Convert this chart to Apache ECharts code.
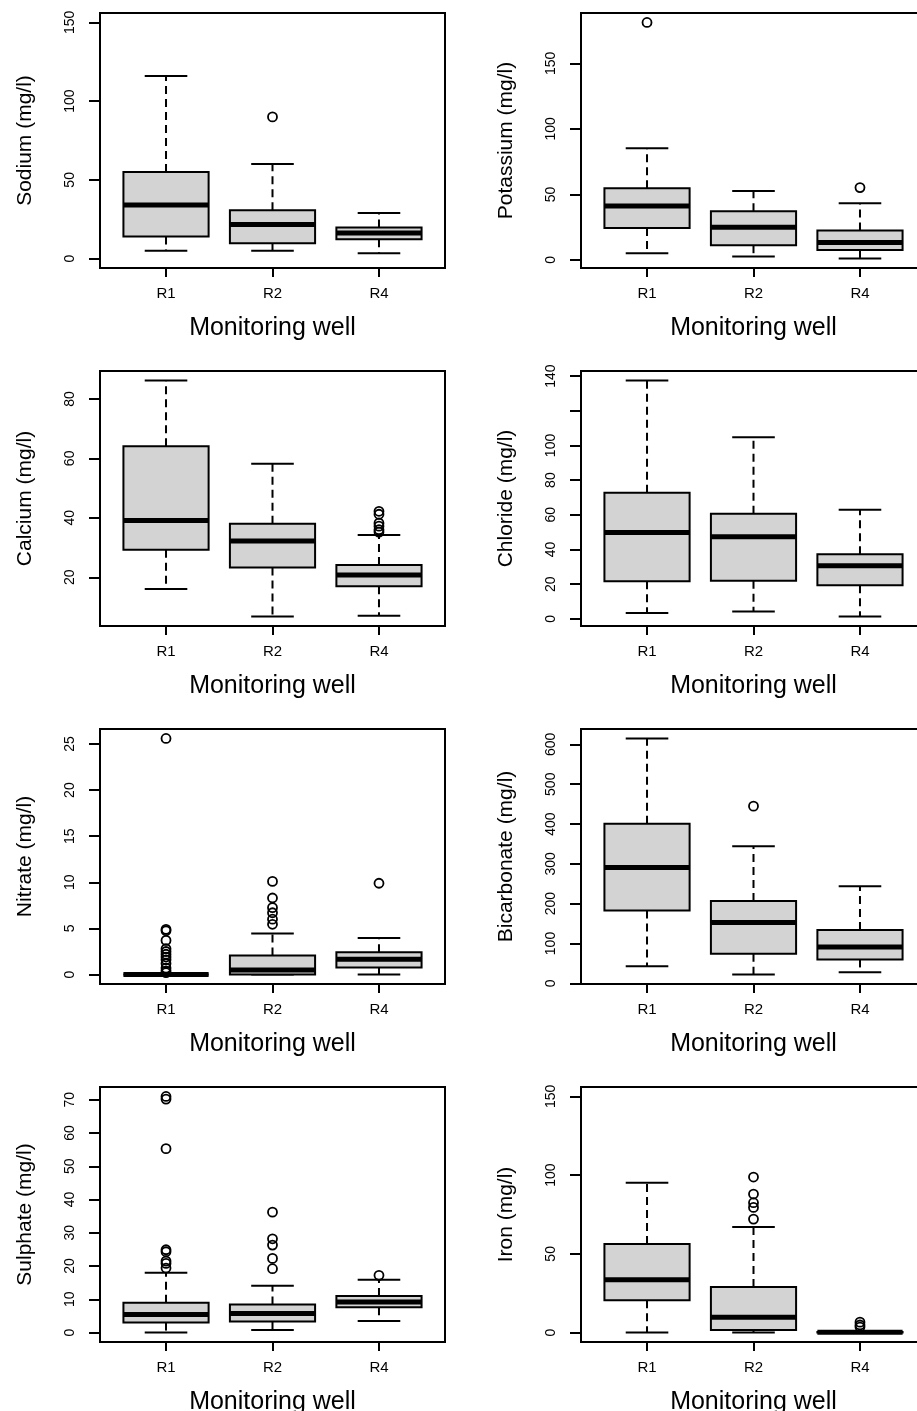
<!DOCTYPE html>
<html>
<head>
<meta charset="utf-8">
<script src="https://cdn.jsdelivr.net/npm/echarts@6/dist/echarts.min.js"></script>
<style>
  html, body { margin: 0; padding: 0; background: #fff; overflow: hidden; }
  #chart { width: 940px; height: 1411px; }
</style>
</head>
<body>
<div id="chart"></div>
<script>
// Monitoring wells on the x axis
const wells = ['R1', 'R2', 'R4'];

// Five-number summaries per well: [lower whisker, Q1, median, Q3, upper whisker]
const sodiumStats = [[5, 14, 34, 55, 116], [5, 9.7, 21.6, 30.7, 60], [3.4, 12.3, 16.3, 19.7, 29]];
const sodiumOutliers = [[], [90], []];
const sodiumTicks = [0, 50, 100, 150];

const potassiumStats = [[5.1, 24.4, 41.2, 54.7, 85.2], [2.5, 11.2, 24.9, 37.1, 52.6], [1.0, 7.6, 13.2, 22.4, 43.2]];
const potassiumOutliers = [[181.3], [], [55.2]];
const potassiumTicks = [0, 50, 100, 150];

const calciumStats = [[16.1, 29.3, 39.1, 64.1, 86.2], [6.8, 23.3, 32.2, 38.0, 58.2], [7.1, 17.0, 20.8, 24.1, 34.2]];
const calciumOutliers = [[], [], [42.2, 41.2, 38.2, 37.2, 36.0, 35.2]];
const calciumTicks = [20, 40, 60, 80];

const chlorideStats = [[3.3, 21.7, 49.8, 72.7, 137.5], [4.2, 21.9, 47.3, 60.6, 104.8], [1.3, 19.4, 30.6, 37.3, 62.9]];
const chlorideOutliers = [[], [], []];
const chlorideTicks = [0, 20, 40, 60, 80, 100, 120, 140];
const chlorideTickLabels = [0, 20, 40, 60, 80, 100, 140];

const nitrateStats = [[0, 0, 0, 0, 0], [0, 0, 0.5, 2.06, 4.44], [0, 0.76, 1.66, 2.42, 3.97]];
const nitrateOutliers = [
  [25.6, 4.9, 4.75, 3.7, 2.8, 2.5, 2.2, 1.9, 1.6, 1.2, 0.7, 0.4, 0.2],
  [10.1, 8.3, 7.25, 6.7, 6.0, 5.45],
  [9.9]
];
const nitrateTicks = [0, 5, 10, 15, 20, 25];

const bicarbonateStats = [[43, 183, 291, 401, 615], [22, 74, 153, 207, 344], [28, 60, 91, 134, 244]];
const bicarbonateOutliers = [[], [445], []];
const bicarbonateTicks = [0, 100, 200, 300, 400, 500, 600];

const sulphateStats = [[0, 3.0, 5.4, 9.0, 18.0], [0.8, 3.3, 5.7, 8.4, 14.1], [3.5, 7.6, 9.2, 11.0, 15.9]];
const sulphateOutliers = [
  [71.0, 70.2, 55.3, 24.9, 24.3, 21.5, 20.8, 19.4],
  [36.2, 28.2, 26.3, 22.3, 19.2],
  [17.2]
];
const sulphateTicks = [0, 10, 20, 30, 40, 50, 60, 70];

const ironStats = [[0, 20.5, 33.6, 56.3, 95.2], [0, 1.7, 9.7, 29.0, 67.1], [0, 0.1, 0.2, 0.4, 0.9]];
const ironOutliers = [[], [98.8, 88.0, 82.5, 79.5, 72.1], [6.6, 4.8, 3.5]];
const ironTicks = [0, 50, 100, 150];

const panels = [
  { name: 'Sodium (mg/l)', stats: sodiumStats, outliers: sodiumOutliers, ticks: sodiumTicks, ylim: [0, 150] },
  { name: 'Potassium (mg/l)', stats: potassiumStats, outliers: potassiumOutliers, ticks: potassiumTicks },
  { name: 'Calcium (mg/l)', stats: calciumStats, outliers: calciumOutliers, ticks: calciumTicks },
  { name: 'Chloride (mg/l)', stats: chlorideStats, outliers: chlorideOutliers, ticks: chlorideTicks, labels: chlorideTickLabels },
  { name: 'Nitrate (mg/l)', stats: nitrateStats, outliers: nitrateOutliers, ticks: nitrateTicks },
  { name: 'Bicarbonate (mg/l)', stats: bicarbonateStats, outliers: bicarbonateOutliers, ticks: bicarbonateTicks },
  { name: 'Sulphate (mg/l)', stats: sulphateStats, outliers: sulphateOutliers, ticks: sulphateTicks },
  { name: 'Iron (mg/l)', stats: ironStats, outliers: ironOutliers, ticks: ironTicks, ylim: [0, 150] }
];

const FONT = "'Liberation Sans', Arial, Helvetica, sans-serif";
const INK = '#000';
const BOX_FILL = '#d3d3d3';

// Panel geometry (the right column runs past the page edge)
const COL_LEFT = [100, 581];
const ROW_TOP = [13, 371, 729, 1087];
const PLOT_W = 345;
const PLOT_H = 255;

// Value range padded by 4% on each side (boxplot default axis style)
function paddedRange(p) {
  let lo, hi;
  if (p.ylim) {
    lo = p.ylim[0]; hi = p.ylim[1];
  } else {
    const all = [];
    p.stats.forEach(s => all.push(...s));
    p.outliers.forEach(o => all.push(...o));
    lo = Math.min(...all); hi = Math.max(...all);
  }
  const pad = (hi - lo) * 0.04;
  return [lo - pad, hi + pad];
}

function renderBox(params, api) {
  const x = api.value(0);
  const lo = api.value(1), q1 = api.value(2), med = api.value(3), q3 = api.value(4), hi = api.value(5);
  const half = 0.4, staple = 0.2;
  const tl = api.coord([x - half, q3]);
  const br = api.coord([x + half, q1]);
  const m = api.coord([x, med]);
  const pLo = api.coord([x, lo]);
  const pQ1 = api.coord([x, q1]);
  const pQ3 = api.coord([x, q3]);
  const pHi = api.coord([x, hi]);
  const sL = api.coord([x - staple, med])[0];
  const sR = api.coord([x + staple, med])[0];
  const dashed = { stroke: INK, lineWidth: 2, lineDash: [8, 5], fill: null };
  const solid = { stroke: INK, lineWidth: 2, fill: null };
  return {
    type: 'group',
    children: [
      { type: 'line', shape: { x1: pQ3[0], y1: pQ3[1], x2: pHi[0], y2: pHi[1] }, style: dashed },
      { type: 'line', shape: { x1: pQ1[0], y1: pQ1[1], x2: pLo[0], y2: pLo[1] }, style: dashed },
      { type: 'line', shape: { x1: sL, y1: pHi[1], x2: sR, y2: pHi[1] }, style: solid },
      { type: 'line', shape: { x1: sL, y1: pLo[1], x2: sR, y2: pLo[1] }, style: solid },
      {
        type: 'rect',
        shape: { x: tl[0], y: tl[1], width: br[0] - tl[0], height: br[1] - tl[1] },
        style: { fill: BOX_FILL, stroke: INK, lineWidth: 2 }
      },
      { type: 'line', shape: { x1: tl[0], y1: m[1], x2: br[0], y2: m[1] }, style: { stroke: INK, lineWidth: 5 } }
    ]
  };
}

const grid = [], xAxis = [], yAxis = [], series = [];

panels.forEach((p, i) => {
  const col = i % 2, row = Math.floor(i / 2);
  const range = paddedRange(p);
  grid.push({
    left: COL_LEFT[col], top: ROW_TOP[row], width: PLOT_W, height: PLOT_H,
    outerBoundsMode: 'none', containLabel: false,
    show: true, borderColor: INK, borderWidth: 2, backgroundColor: 'transparent'
  });
  xAxis.push({
    gridIndex: i, type: 'value', min: 0.38, max: 3.62,
    axisLine: { show: false, onZero: false },
    splitLine: { show: false },
    axisTick: { show: true, customValues: [1, 2, 3], length: 9, lineStyle: { color: INK, width: 2 } },
    axisLabel: {
      customValues: [1, 2, 3], formatter: v => wells[Math.round(v) - 1],
      margin: 18, fontSize: 15, color: INK, fontFamily: FONT
    },
    name: 'Monitoring well', nameLocation: 'middle', nameGap: 48,
    nameTextStyle: { fontSize: 25, color: INK, fontFamily: FONT }
  });
  yAxis.push({
    gridIndex: i, type: 'value', min: range[0], max: range[1],
    axisLine: { show: false, onZero: false },
    splitLine: { show: false },
    axisTick: { show: true, customValues: p.ticks, length: 11, lineStyle: { color: INK, width: 2 } },
    axisLabel: {
      customValues: p.labels || p.ticks, rotate: 90,
      margin: 23, fontSize: 14, color: INK, fontFamily: FONT
    },
    name: p.name, nameLocation: 'middle', nameRotate: 90, nameGap: 64,
    nameTextStyle: { fontSize: 21, color: INK, fontFamily: FONT }
  });
  series.push({
    type: 'custom', xAxisIndex: i, yAxisIndex: i, silent: true,
    renderItem: renderBox,
    encode: { x: 0, y: [1, 2, 3, 4, 5] },
    data: p.stats.map((s, k) => [k + 1, ...s])
  });
  const pts = [];
  p.outliers.forEach((list, k) => list.forEach(v => pts.push([k + 1, v])));
  series.push({
    type: 'scatter', xAxisIndex: i, yAxisIndex: i, silent: true,
    symbol: 'circle', symbolSize: 9,
    itemStyle: { color: 'rgba(0,0,0,0)', borderColor: INK, borderWidth: 1.8, opacity: 1 },
    data: pts, z: 3
  });
});

const chart = echarts.init(document.getElementById('chart'), null, { renderer: 'canvas' });
chart.setOption({
  animation: false,
  backgroundColor: '#fff',
  grid, xAxis, yAxis, series
});
</script>
</body>
</html>
